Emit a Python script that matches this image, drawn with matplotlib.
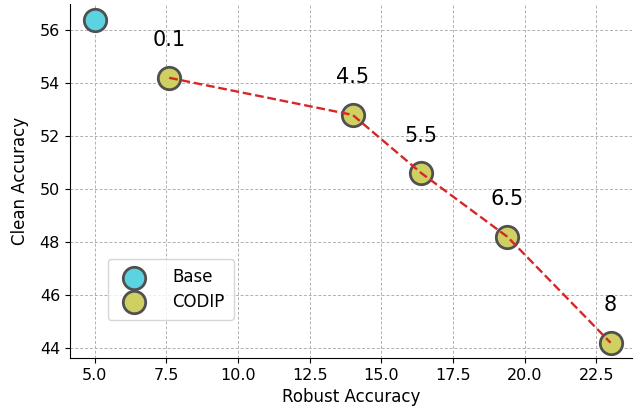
import numpy as np
import matplotlib.pyplot as plt

# data
base_x = [5.0]
base_y = [56.4]
codip_x = [7.6, 14.0, 16.4, 19.4, 23.0]
codip_y = [54.2, 52.8, 50.6, 48.2, 44.2]
codip_labels = ["0.1", "4.5", "5.5", "6.5", "8"]

fig = plt.figure(figsize=(6.34, 4.15), dpi=100)
ax = fig.add_subplot(111)
fig.subplots_adjust(left=0.11, right=0.997, bottom=0.137, top=0.99)

ax.scatter(base_x, base_y, s=260, color="#5bd3e0", edgecolor="#505050",
           linewidth=2, label="Base", zorder=3)
ax.scatter(codip_x, codip_y, s=260, color="#cfcf62", edgecolor="#505050",
           linewidth=2, label="CODIP", zorder=3)
ax.plot(codip_x, codip_y, ls="--", color="#d62728", lw=1.7, zorder=4)

for x, y, t in zip(codip_x, codip_y, codip_labels):
    ax.annotate(t, (x, y), xytext=(0, 27), textcoords="offset points",
                ha="center", va="center", fontsize=15)

ax.set_xlim(4.13, 23.75)
ax.set_ylim(43.62, 56.98)
ax.set_xticks(np.arange(5, 23, 2.5))
ax.set_yticks(np.arange(44, 57, 2))
ax.tick_params(labelsize=11.5)
ax.set_xlabel("Robust Accuracy", fontsize=12)
ax.set_ylabel("Clean Accuracy", fontsize=12, labelpad=8)

ax.spines["top"].set_visible(False)
ax.spines["right"].set_visible(False)
ax.grid(ls=(0, (3, 2)), color="#b0b0b0", lw=0.7)
ax.set_axisbelow(True)

ax.legend(loc="lower left", bbox_to_anchor=(0.053, 0.085), fontsize=12,
          borderpad=0.55, labelspacing=0.4, handletextpad=1.3)

plt.savefig("out.png", dpi=100)
